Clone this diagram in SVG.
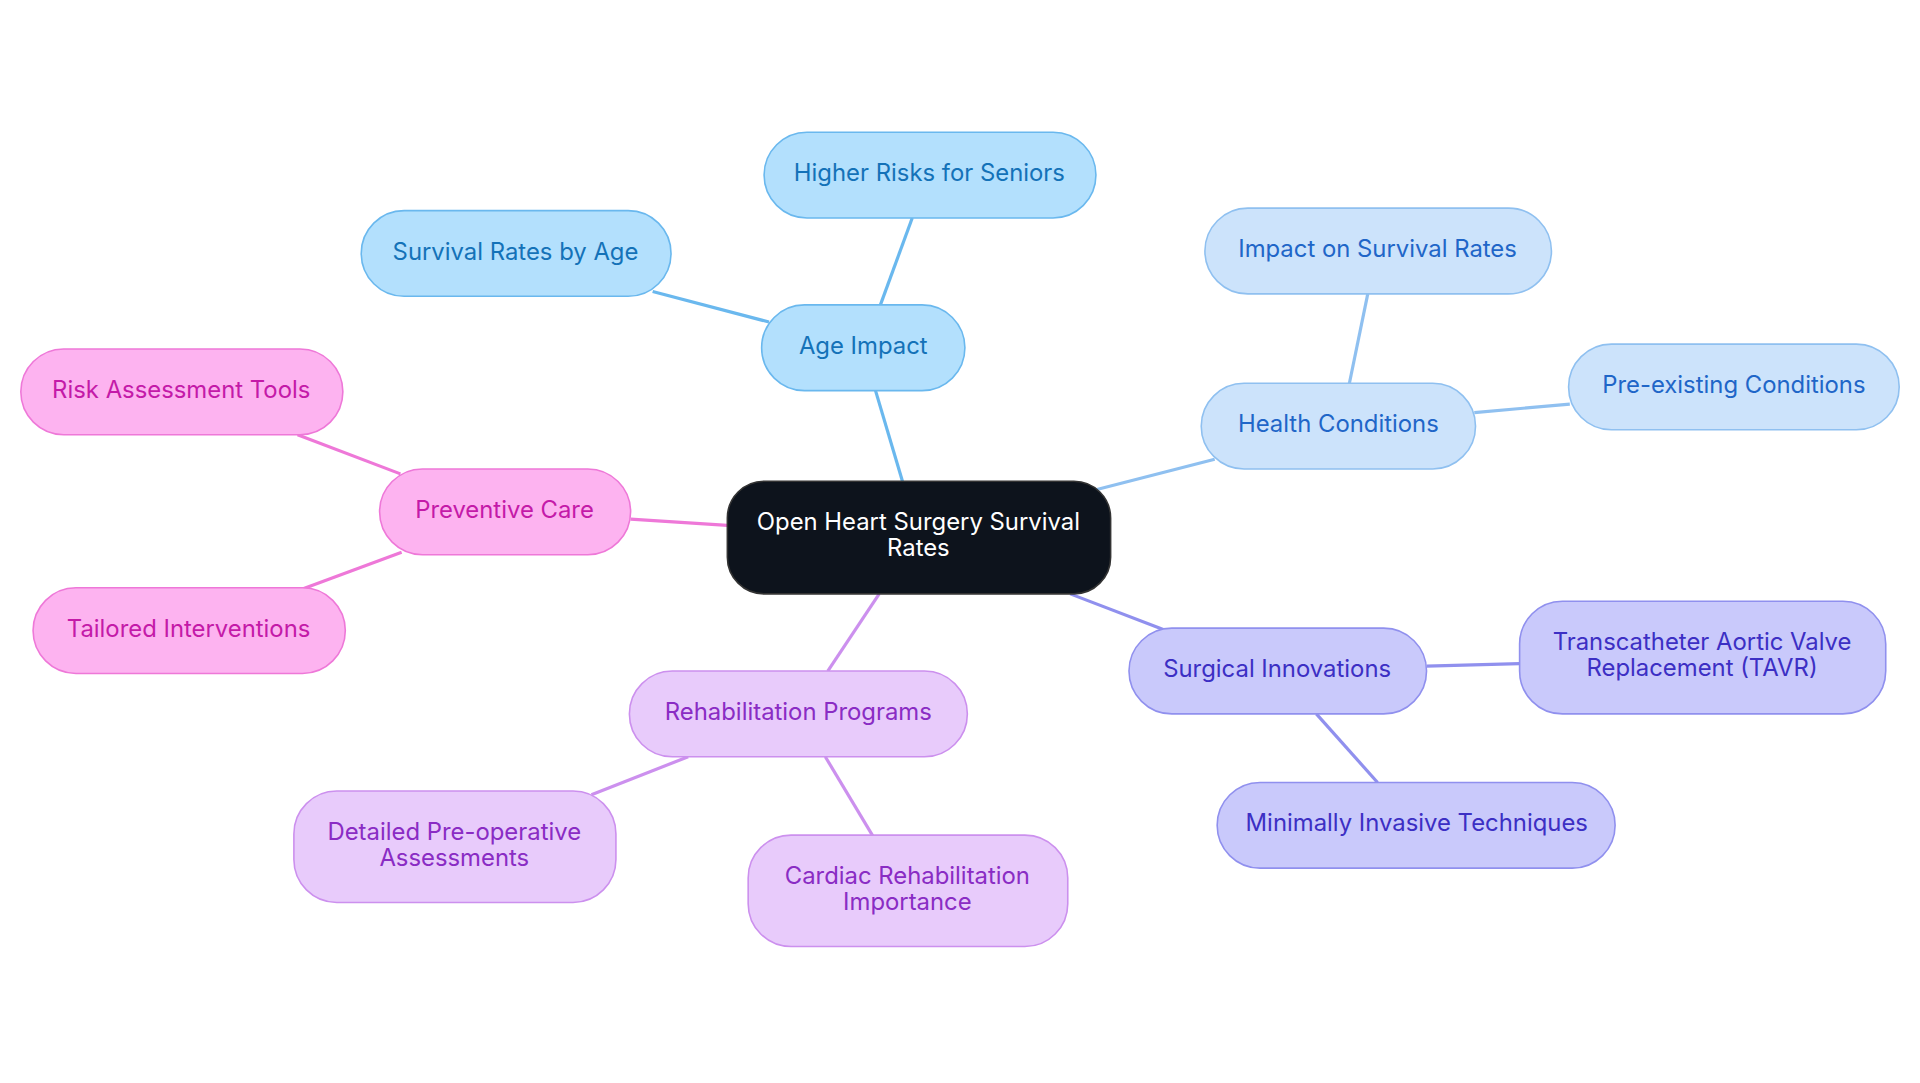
<svg xmlns="http://www.w3.org/2000/svg" width="1920" height="1083" viewBox="0 0 1920 1083">
<style>
text{font-family:Inter,"Noto Sans",sans-serif;font-size:19.5px;text-anchor:middle}
.a rect{fill:#b3e0fd;stroke:#6ab8ee}.a text{fill:#1472b8}
.h rect{fill:#cce3fb;stroke:#8fc0f0}.h text{fill:#1f66c8}
.s rect{fill:#c9c9fb;stroke:#9090ee}.s text{fill:#3c2fc4}
.r rect{fill:#e8cbfb;stroke:#cc90ee}.r text{fill:#8a2cc4}
.p rect{fill:#fdb3f0;stroke:#ee78d8}.p text{fill:#c41aa8}
rect{stroke-width:1.3}
#edges line{stroke-width:2.6}
</style>
<rect width="1920" height="1083" fill="#fff"/>
<g transform="scale(1.2245)">
<g id="edges">
<line x1="737" y1="393" x2="715" y2="319" stroke="#6ab8ee"/>
<line x1="719" y1="249" x2="745" y2="178" stroke="#6ab8ee"/>
<line x1="628" y1="263" x2="533" y2="238" stroke="#6ab8ee"/>
<line x1="895" y1="400" x2="992" y2="375" stroke="#8fc0f0"/>
<line x1="1102" y1="313" x2="1117" y2="240" stroke="#8fc0f0"/>
<line x1="1204" y1="337" x2="1282" y2="330" stroke="#8fc0f0"/>
<line x1="874" y1="485" x2="950" y2="514" stroke="#9090ee"/>
<line x1="1165" y1="544" x2="1241" y2="542" stroke="#9090ee"/>
<line x1="1075" y1="583" x2="1125" y2="639" stroke="#9090ee"/>
<line x1="718" y1="485" x2="676" y2="548" stroke="#cc90ee"/>
<line x1="562" y1="618" x2="483" y2="649" stroke="#cc90ee"/>
<line x1="674" y1="618" x2="713" y2="683" stroke="#cc90ee"/>
<line x1="594" y1="429" x2="515" y2="424" stroke="#ee78d8"/>
<line x1="327" y1="387" x2="243" y2="355" stroke="#ee78d8"/>
<line x1="328" y1="451" x2="247" y2="481" stroke="#ee78d8"/>
</g>
<g id="center"><rect x="594" y="393" width="313" height="92" rx="30" fill="#0d131c" stroke="#333"/><text x="750" y="433" fill="#fff">Open Heart Surgery Survival</text><text x="750" y="454" fill="#fff">Rates</text></g>
<g id="age" class="a"><rect x="622" y="249" width="166" height="70" rx="35"/><text x="705" y="289">Age Impact</text></g>
<g id="seniors" class="a"><rect x="624" y="108" width="271" height="70" rx="35"/><text x="759" y="148">Higher Risks for Seniors</text></g>
<g id="byage" class="a"><rect x="295" y="172" width="253" height="70" rx="35"/><text x="421" y="212">Survival Rates by Age</text></g>
<g id="health" class="h"><rect x="981" y="313" width="224" height="70" rx="35"/><text x="1093" y="353">Health Conditions</text></g>
<g id="impact" class="h"><rect x="984" y="170" width="283" height="70" rx="35"/><text x="1125" y="210">Impact on Survival Rates</text></g>
<g id="preex" class="h"><rect x="1281" y="281" width="270" height="70" rx="35"/><text x="1416" y="321">Pre-existing Conditions</text></g>
<g id="surg" class="s"><rect x="922" y="513" width="243" height="70" rx="35"/><text x="1043" y="553">Surgical Innovations</text></g>
<g id="tavr" class="s"><rect x="1241" y="491" width="299" height="92" rx="35"/><text x="1390" y="531">Transcatheter Aortic Valve</text><text x="1390" y="552">Replacement (TAVR)</text></g>
<g id="mini" class="s"><rect x="994" y="639" width="325" height="70" rx="35"/><text x="1157" y="679">Minimally Invasive Techniques</text></g>
<g id="rehab" class="r"><rect x="514" y="548" width="276" height="70" rx="35"/><text x="652" y="588">Rehabilitation Programs</text></g>
<g id="preop" class="r"><rect x="240" y="646" width="263" height="91" rx="35"/><text x="371" y="686">Detailed Pre-operative</text><text x="371" y="707">Assessments</text></g>
<g id="cardiac" class="r"><rect x="611" y="682" width="261" height="91" rx="35"/><text x="741" y="722">Cardiac Rehabilitation</text><text x="741" y="743">Importance</text></g>
<g id="prev" class="p"><rect x="310" y="383" width="205" height="70" rx="35"/><text x="412" y="423">Preventive Care</text></g>
<g id="risk" class="p"><rect x="17" y="285" width="263" height="70" rx="35"/><text x="148" y="325">Risk Assessment Tools</text></g>
<g id="tail" class="p"><rect x="27" y="480" width="255" height="70" rx="35"/><text x="154" y="520">Tailored Interventions</text></g>
</g>
</svg>
